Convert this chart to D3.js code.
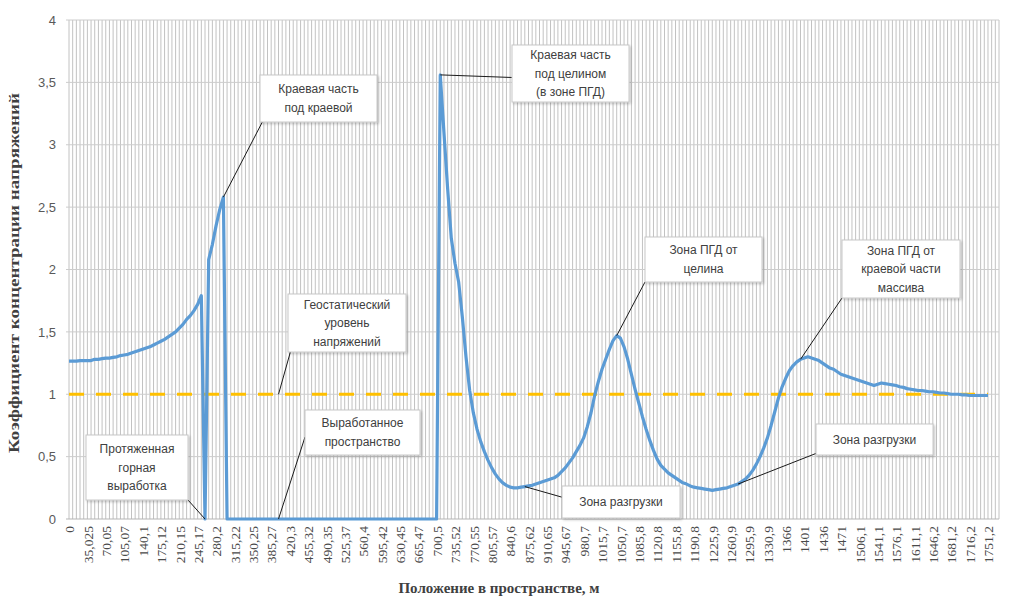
<!DOCTYPE html>
<html>
<head>
<meta charset="utf-8">
<script src="https://cdn.jsdelivr.net/npm/d3@7"></script>
<style>
  body { margin: 0; background: #fff; }
  svg { display: block; }
</style>
</head>
<body>
<div id="chart"></div>
<script>
// подписи оси X (каждая 5-я категория, шаг 7,005 м)
const tickLabels = ["0", "35,025", "70,05", "105,07", "140,1", "175,12", "210,15", "245,17", "280,2", "315,22",
  "350,25", "385,27", "420,3", "455,32", "490,35", "525,37", "560,4", "595,42", "630,45", "665,47",
  "700,5", "735,52", "770,55", "805,57", "840,6", "875,62", "910,65", "945,67", "980,7", "1015,7",
  "1050,7", "1085,8", "1120,8", "1155,8", "1190,8", "1225,9", "1260,9", "1295,9", "1330,9", "1366",
  "1401", "1436", "1471", "1506,1", "1541,1", "1576,1", "1611,1", "1646,2", "1681,2", "1716,2", "1751,2"];

const categoryCount = 254; // всего категорий на оси (последние без данных)

// коэффициент концентрации напряжений по категориям
const kValues = [
  1.265, 1.265, 1.265, 1.27, 1.27, 1.27, 1.27, 1.28, 1.28, 1.285,
  1.29, 1.29, 1.295, 1.30, 1.31, 1.315, 1.32, 1.33, 1.34, 1.35,
  1.36, 1.37, 1.38, 1.395, 1.41, 1.425, 1.44, 1.46, 1.48, 1.50,
  1.53, 1.56, 1.60, 1.63, 1.67, 1.72, 1.79, 0, 2.08, 2.2,
  2.35, 2.48, 2.58, 0, 0, 0, 0, 0, 0, 0,
  0, 0, 0, 0, 0, 0, 0, 0, 0, 0,
  0, 0, 0, 0, 0, 0, 0, 0, 0, 0,
  0, 0, 0, 0, 0, 0, 0, 0, 0, 0,
  0, 0, 0, 0, 0, 0, 0, 0, 0, 0,
  0, 0, 0, 0, 0, 0, 0, 0, 0, 0,
  0, 3.56, 3.1, 2.65, 2.25, 2.05, 1.9, 1.62, 1.3, 1.03,
  0.85, 0.72, 0.62, 0.54, 0.47, 0.41, 0.36, 0.32, 0.29, 0.27,
  0.255, 0.25, 0.25, 0.255, 0.26, 0.265, 0.27, 0.28, 0.29, 0.30,
  0.31, 0.32, 0.33, 0.35, 0.38, 0.41, 0.45, 0.49, 0.54, 0.59,
  0.65, 0.74, 0.85, 0.99, 1.1, 1.2, 1.28, 1.36, 1.43, 1.47,
  1.45, 1.38, 1.28, 1.16, 1.04, 0.93, 0.82, 0.72, 0.63, 0.55,
  0.48, 0.43, 0.40, 0.37, 0.35, 0.33, 0.31, 0.29, 0.28, 0.265,
  0.255, 0.25, 0.245, 0.24, 0.235, 0.23, 0.235, 0.24, 0.245, 0.25,
  0.26, 0.27, 0.28, 0.30, 0.32, 0.35, 0.39, 0.44, 0.50, 0.57,
  0.65, 0.75, 0.86, 0.97, 1.06, 1.13, 1.19, 1.23, 1.26, 1.28,
  1.29, 1.30, 1.29, 1.28, 1.27, 1.25, 1.23, 1.21, 1.20, 1.18,
  1.16, 1.15, 1.14, 1.13, 1.12, 1.11, 1.10, 1.09, 1.08, 1.07,
  1.08, 1.09, 1.085, 1.08, 1.075, 1.07, 1.06, 1.055, 1.045, 1.04,
  1.035, 1.03, 1.03, 1.025, 1.02, 1.02, 1.015, 1.01, 1.01, 1.005,
  1.0, 1.0, 1.0, 0.995, 0.995, 0.99, 0.99, 0.99, 0.99, 0.99,
  0.99
];

const geostaticLevel = 1; // геостатический уровень
const yTicks = [0, 0.5, 1, 1.5, 2, 2.5, 3, 3.5, 4];

// выноски: текст, рамка, место крепления на рамке (доли), точка на кривой
const callouts = [
  { lines: ["Краевая часть", "под краевой"], box: [260, 75, 117, 47], from: [0.02, 1], at: [42, 2.58] },
  { lines: ["Краевая часть", "под целином", "(в зоне ПГД)"], box: [512, 45, 117, 57], from: [0, 0.57], at: [101, 3.56] },
  { lines: ["Геостатический", "уровень", "напряжений"], box: [288, 294, 118, 58], from: [0.02, 1], at: [57, 1] },
  { lines: ["Выработанное", "пространство"], box: [305, 410, 115, 45], from: [0, 0.6], at: [57, 0] },
  { lines: ["Протяженная", "горная", "выработка"], box: [86, 435, 102, 65], from: [1, 1], at: [37, 0] },
  { lines: ["Зона разгрузки"], box: [562, 486, 118, 32], from: [0, 0.35], at: [124, 0.26] },
  { lines: ["Зона ПГД от", "целина"], box: [645, 237, 117, 45], from: [0, 1], at: [149, 1.47] },
  { lines: ["Зона ПГД от", "краевой части", "массива"], box: [842, 240, 118, 58], from: [0, 1], at: [199, 1.28] },
  { lines: ["Зона разгрузки"], box: [816, 424, 117, 31], from: [0, 0.95], at: [182, 0.28] }
];

const width = 1009, height = 599;
const svg = d3.select("#chart").append("svg")
  .attr("width", width)
  .attr("height", height);

const x = d3.scaleLinear().domain([0, categoryCount - 1]).range([69, 999]);
const y = d3.scaleLinear().domain([0, 4]).range([519, 20]);

// тень для выносок
const defs = svg.append("defs");
const f = defs.append("filter").attr("id", "shadow").attr("x", "-10%").attr("y", "-10%")
  .attr("width", "130%").attr("height", "140%");
f.append("feDropShadow").attr("dx", 1.5).attr("dy", 1.5).attr("stdDeviation", 1.2)
  .attr("flood-color", "#000").attr("flood-opacity", 0.22);

// вертикальная сетка по каждой категории
svg.append("g")
  .selectAll("line")
  .data(d3.range(categoryCount))
  .join("line")
  .attr("x1", (d) => x(d)).attr("x2", (d) => x(d))
  .attr("y1", y(4)).attr("y2", y(0))
  .attr("stroke", "#c2c2c2")
  .attr("stroke-width", 1);

// горизонтальная сетка
svg.append("g")
  .selectAll("line")
  .data(yTicks)
  .join("line")
  .attr("x1", x(0) - 3).attr("x2", x(categoryCount - 1))
  .attr("y1", (d) => y(d)).attr("y2", (d) => y(d))
  .attr("stroke", (d) => (d === 0 ? "#b5b5b5" : "#cccccc"))
  .attr("stroke-width", 1);

// ось Y
const yAxis = d3.axisLeft(y)
  .tickValues(yTicks)
  .tickSize(0)
  .tickPadding(0)
  .tickFormat((d) => String(d).replace(".", ","));
svg.append("g")
  .attr("transform", `translate(${x(0) - 13},0)`)
  .call(yAxis)
  .call((g) => g.select(".domain").remove())
  .selectAll("text")
  .attr("font-family", "Liberation Sans, Arial, sans-serif")
  .attr("font-size", 13)
  .attr("fill", "#595959");

// ось X: подписи через 5 категорий, повернуты на 90°
const xAxis = d3.axisBottom(x)
  .tickValues(tickLabels.map((d, i) => i * 5))
  .tickSize(0)
  .tickFormat((d, i) => tickLabels[i]);
svg.append("g")
  .attr("transform", `translate(0,${y(0)})`)
  .call(xAxis)
  .call((g) => g.select(".domain").remove())
  .selectAll("text")
  .attr("font-family", "Liberation Serif, Times New Roman, serif")
  .attr("font-size", 13.5)
  .attr("fill", "#4a4a4a")
  .attr("text-anchor", "end")
  .attr("transform", "rotate(-90)")
  .attr("x", -7)
  .attr("y", 0)
  .attr("dy", "0.35em");

// пунктир геостатического уровня
svg.append("path")
  .datum(kValues)
  .attr("fill", "none")
  .attr("stroke", "#ffc000")
  .attr("stroke-width", 3)
  .attr("stroke-dasharray", "15,12")
  .attr("d", d3.line().x((d, i) => x(i)).y(() => y(geostaticLevel)));

// основная кривая
svg.append("path")
  .datum(kValues)
  .attr("fill", "none")
  .attr("stroke", "#5b9bd5")
  .attr("stroke-width", 3.2)
  .attr("stroke-linejoin", "round")
  .attr("d", d3.line().x((d, i) => x(i)).y((d) => y(d)));

// выноски
const cg = svg.append("g").attr("font-family", "Liberation Sans, Arial, sans-serif");
callouts.forEach((c) => {
  const [bx, by, bw, bh] = c.box;
  cg.append("line")
    .attr("x1", bx + c.from[0] * bw).attr("y1", by + c.from[1] * bh)
    .attr("x2", x(c.at[0])).attr("y2", y(c.at[1]))
    .attr("stroke", "#1a1a1a")
    .attr("stroke-width", 1);
  cg.append("rect")
    .attr("x", bx).attr("y", by)
    .attr("width", bw).attr("height", bh)
    .attr("fill", "#fff")
    .attr("stroke", "#c8c8c8")
    .attr("stroke-width", 1)
    .attr("filter", "url(#shadow)");
  const lh = 18.5;
  const y0 = by + bh / 2 - ((c.lines.length - 1) * lh) / 2;
  cg.append("text")
    .attr("text-anchor", "middle")
    .attr("font-size", 12)
    .attr("fill", "#404040")
    .selectAll("tspan")
    .data(c.lines)
    .join("tspan")
    .attr("x", bx + bw / 2)
    .attr("y", (d, i) => y0 + i * lh)
    .attr("dy", "0.35em")
    .text((d) => d);
});

// подписи осей
svg.append("text")
  .attr("transform", `translate(19,273) rotate(-90)`)
  .attr("text-anchor", "middle")
  .attr("font-family", "Liberation Serif, Times New Roman, serif")
  .attr("font-weight", "bold")
  .attr("font-size", 15)
  .attr("textLength", 360)
  .attr("lengthAdjust", "spacingAndGlyphs")
  .attr("fill", "#404040")
  .text("Коэффициент концентрации напряжений");

svg.append("text")
  .attr("x", 499)
  .attr("y", 593)
  .attr("text-anchor", "middle")
  .attr("font-family", "Liberation Serif, Times New Roman, serif")
  .attr("font-weight", "bold")
  .attr("font-size", 15)
  .attr("fill", "#404040")
  .text("Положение в пространстве, м");
</script>
</body>
</html>
